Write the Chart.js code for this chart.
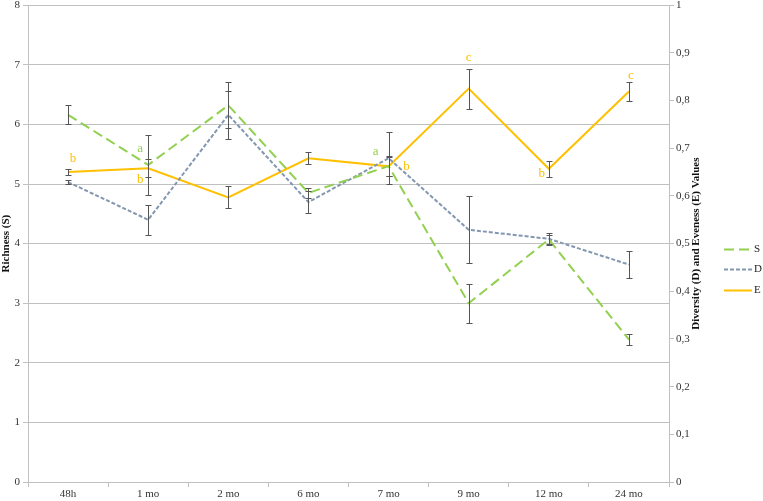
<!DOCTYPE html>
<html>
<head>
<meta charset="utf-8">
<script src="https://cdn.jsdelivr.net/npm/chart.js@4.4.1/dist/chart.umd.min.js"></script>
<style>
  html, body { margin: 0; padding: 0; background: #fff; }
  #wrap { width: 763px; height: 501px; }
</style>
</head>
<body>
<div id="wrap"><canvas id="chart" width="763" height="501"></canvas></div>
<script>
const CATEGORIES = ["48h", "1 mo", "2 mo", "6 mo", "7 mo", "9 mo", "12 mo", "24 mo"];

// richness (left axis)
const S_VALUES = [6.16, 5.32, 6.32, 4.85, 5.30, 3.00, 4.07, 2.39];
const S_ERRORS = [0.16, 0.50, 0.385, 0.08, 0.17, 0.33, 0.07, 0.09];

// diversity and evenness (right axis)
const D_VALUES = [0.629, 0.550, 0.770, 0.587, 0.679, 0.529, 0.510, 0.456];
const D_ERRORS = [0.004, 0.031, 0.050, 0.023, 0.055, 0.070, 0.012, 0.029];
const E_VALUES = [0.650, 0.658, 0.597, 0.679, 0.662, 0.825, 0.657, 0.819];
const E_ERRORS = [0.007, 0.019, 0.023, 0.013, 0.020, 0.042, 0.017, 0.019];

// significance letters
const S_LETTERS = ["", "a", "", "", "a", "", "", ""];
const E_LETTERS = ["b", "b", "", "", "b", "c", "b", "c"];

const FONT = "'Liberation Serif', 'DejaVu Serif', serif";
const GREEN = "#92d050";
const BLUE = "#8497b0";
const ORANGE = "#ffc000";
const GRID = "#c0c0c0";
const RIGHT_TITLE = "Diversity (D) and Eveness (E) Values";

// where each letter sits relative to its point (px)
const LETTER_OFFSETS = {
  S: [null, [-8, -16], null, null, [-13, -15], null, null, null],
  E: [[5, -14], [-8, 11], null, null, [18, 0], [0, -31], [-7, 5], [2, -16]]
};

const errorBars = {
  id: "errorBars",
  afterDatasetsDraw(chart) {
    const ctx = chart.ctx;
    ctx.save();
    ctx.strokeStyle = "#555";
    ctx.lineWidth = 1;
    chart.data.datasets.forEach((ds, i) => {
      const meta = chart.getDatasetMeta(i);
      const scale = chart.scales[ds.yAxisID];
      meta.data.forEach((pt, j) => {
        const v = ds.data[j];
        const e = ds.errors[j];
        const top = Math.round(scale.getPixelForValue(v + e)) + 0.5;
        const bot = Math.round(scale.getPixelForValue(v - e)) + 0.5;
        const x = Math.round(pt.x) + 0.5;
        ctx.beginPath();
        ctx.moveTo(x, top); ctx.lineTo(x, bot);
        ctx.moveTo(x - 3, top); ctx.lineTo(x + 3, top);
        ctx.moveTo(x - 3, bot); ctx.lineTo(x + 3, bot);
        ctx.stroke();
      });
    });
    ctx.restore();
  }
};

const letters = {
  id: "letters",
  afterDatasetsDraw(chart) {
    const ctx = chart.ctx;
    ctx.save();
    ctx.font = "13px " + FONT;
    ctx.textAlign = "center";
    ctx.textBaseline = "middle";
    chart.data.datasets.forEach((ds, i) => {
      if (!ds.letters) return;
      const meta = chart.getDatasetMeta(i);
      const offs = LETTER_OFFSETS[ds.label];
      ctx.fillStyle = ds.borderColor;
      meta.data.forEach((pt, j) => {
        if (!ds.letters[j]) return;
        const o = offs[j] || [0, -14];
        ctx.fillText(ds.letters[j], pt.x + o[0], pt.y + o[1]);
      });
    });
    ctx.restore();
  }
};

// right axis title (reads bottom to top, like the left one) and the legend
const sideBits = {
  id: "sideBits",
  afterDraw(chart) {
    const ctx = chart.ctx;
    const area = chart.chartArea;
    const midY = (area.top + area.bottom) / 2;
    ctx.save();
    ctx.translate(area.right + 27, midY);
    ctx.rotate(-Math.PI / 2);
    ctx.font = "bold 11px " + FONT;
    ctx.fillStyle = "#111";
    ctx.textAlign = "center";
    ctx.textBaseline = "middle";
    ctx.fillText(RIGHT_TITLE, 0, 0);
    ctx.restore();

    ctx.save();
    ctx.font = "11px " + FONT;
    ctx.textBaseline = "middle";
    ctx.textAlign = "left";
    chart.data.datasets.forEach((ds, i) => {
      const y = Math.round(midY + 5 + i * 20.5) + 0.5;
      const x0 = area.right + 55;
      ctx.strokeStyle = ds.borderColor;
      ctx.lineWidth = ds.borderWidth;
      ctx.setLineDash(ds.borderDash || []);
      ctx.beginPath();
      ctx.moveTo(x0, y); ctx.lineTo(x0 + 28, y);
      ctx.stroke();
      ctx.fillStyle = "#222";
      ctx.fillText(ds.label, x0 + 30, y);
    });
    ctx.restore();
  }
};

function rightTick(v) {
  const r = Math.round(v * 10) / 10;
  if (r === 0 || r === 1) return String(r);
  return r.toFixed(1).replace(".", ",");
}

new Chart(document.getElementById("chart"), {
  type: "line",
  data: {
    labels: CATEGORIES,
    datasets: [
      {
        label: "S", data: S_VALUES, errors: S_ERRORS, letters: S_LETTERS,
        yAxisID: "y", borderColor: GREEN, backgroundColor: GREEN,
        borderWidth: 2, borderDash: [10, 5], pointRadius: 0, tension: 0
      },
      {
        label: "D", data: D_VALUES, errors: D_ERRORS,
        yAxisID: "y1", borderColor: BLUE, backgroundColor: BLUE,
        borderWidth: 2, borderDash: [4, 2], pointRadius: 0, tension: 0
      },
      {
        label: "E", data: E_VALUES, errors: E_ERRORS, letters: E_LETTERS,
        yAxisID: "y1", borderColor: ORANGE, backgroundColor: ORANGE,
        borderWidth: 2, pointRadius: 0, tension: 0
      }
    ]
  },
  options: {
    responsive: false,
    animation: false,
    layout: { padding: { top: 0, left: 0, right: 58, bottom: 0 } },
    plugins: {
      tooltip: { enabled: false },
      legend: { display: false }
    },
    scales: {
      x: {
        offset: true,
        grid: { offset: true, drawOnChartArea: false, color: GRID, tickLength: 5 },
        border: { color: GRID },
        ticks: { color: "#333", font: { family: FONT, size: 11 }, padding: 1 },
        afterFit(scale) { scale.height = 19; }
      },
      y: {
        position: "left",
        min: 0, max: 8,
        ticks: { stepSize: 1, color: "#333", font: { family: FONT, size: 11, lineHeight: 0.4 }, padding: 3 },
        grid: { color: GRID, tickLength: 5 },
        border: { color: GRID },
        title: { display: true, text: "Richness (S)", color: "#111", padding: 0,
                 font: { family: FONT, size: 11, weight: "bold" } },
        afterFit(scale) { scale.width = 28; }
      },
      y1: {
        position: "right",
        min: 0, max: 1,
        ticks: { stepSize: 0.1, color: "#333", font: { family: FONT, size: 11, lineHeight: 0.4 }, padding: 2,
                 callback: rightTick },
        grid: { drawOnChartArea: false, color: GRID, tickLength: 5 },
        border: { color: GRID },
        afterFit(scale) { scale.width = 36; }
      }
    }
  },
  plugins: [errorBars, letters, sideBits]
});
</script>
</body>
</html>
